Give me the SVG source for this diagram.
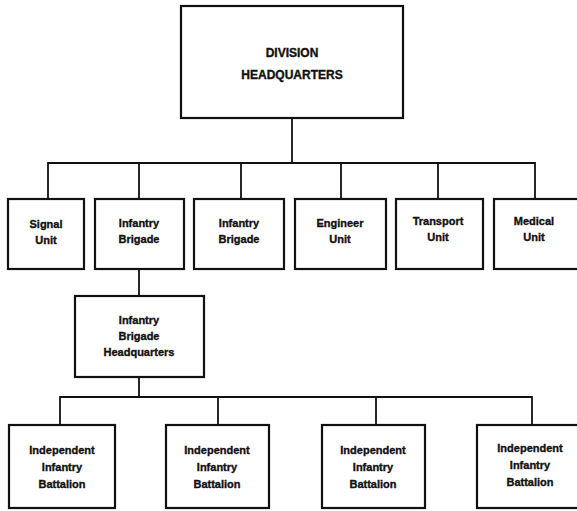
<svg xmlns="http://www.w3.org/2000/svg" width="577" height="511" viewBox="0 0 577 511">
<style>
.box{fill:#fff;stroke:#111;stroke-width:2.2}
.ln{fill:none;stroke:#111;stroke-width:1.8}
text{font-family:"Liberation Sans",Arial,sans-serif;font-weight:bold;fill:#111;stroke:#111;stroke-width:0.35;text-anchor:middle}
.t{font-size:11px}
.big{font-size:12px}
</style>
<rect width="577" height="511" fill="#fff"/>
<g id="connectors">
<path class="ln" d="M292 118V163M48 199V163H535V199M139 163V199M241 163V199M341 163V199M438 163V199"/>
<path class="ln" d="M139 269V296M139 377V397M60 425V397H532V425M218 397V425M376 397V425"/>
</g>
<g id="div-hq"><rect class="box" x="181" y="6" width="222" height="112"/>
<text class="big" x="292" y="57">DIVISION</text><text class="big" x="292" y="79">HEADQUARTERS</text></g>
<g id="signal"><rect class="box" x="8" y="199" width="76" height="70"/>
<text class="t" x="46" y="228">Signal</text><text class="t" x="46" y="244">Unit</text></g>
<g id="inf-bde-1"><rect class="box" x="95" y="199" width="89" height="70"/>
<text class="t" x="139" y="227">Infantry</text><text class="t" x="139" y="243">Brigade</text></g>
<g id="inf-bde-2"><rect class="box" x="194" y="199" width="90" height="70"/>
<text class="t" x="239" y="227">Infantry</text><text class="t" x="239" y="243">Brigade</text></g>
<g id="engineer"><rect class="box" x="295" y="199" width="91" height="70"/>
<text class="t" x="340" y="227">Engineer</text><text class="t" x="340" y="243">Unit</text></g>
<g id="transport"><rect class="box" x="396" y="199" width="87" height="70"/>
<text class="t" x="438" y="225">Transport</text><text class="t" x="438" y="241">Unit</text></g>
<g id="medical"><rect class="box" x="494" y="199" width="90" height="70"/>
<text class="t" x="534" y="225">Medical</text><text class="t" x="534" y="241">Unit</text></g>
<g id="bde-hq"><rect class="box" x="75" y="296" width="129" height="81"/>
<text class="t" x="139" y="324">Infantry</text><text class="t" x="139" y="340">Brigade</text><text class="t" x="139" y="356">Headquarters</text></g>
<g id="bn-1"><rect class="box" x="9" y="425" width="106" height="83"/>
<text class="t" x="62" y="454">Independent</text><text class="t" x="62" y="471">Infantry</text><text class="t" x="62" y="488">Battalion</text></g>
<g id="bn-2"><rect class="box" x="166" y="425" width="103" height="83"/>
<text class="t" x="217" y="454">Independent</text><text class="t" x="217" y="471">Infantry</text><text class="t" x="217" y="488">Battalion</text></g>
<g id="bn-3"><rect class="box" x="322" y="425" width="103" height="83"/>
<text class="t" x="373" y="454">Independent</text><text class="t" x="373" y="471">Infantry</text><text class="t" x="373" y="488">Battalion</text></g>
<g id="bn-4"><rect class="box" x="477" y="425" width="106" height="83"/>
<text class="t" x="530" y="452">Independent</text><text class="t" x="530" y="469">Infantry</text><text class="t" x="530" y="486">Battalion</text></g>
</svg>
